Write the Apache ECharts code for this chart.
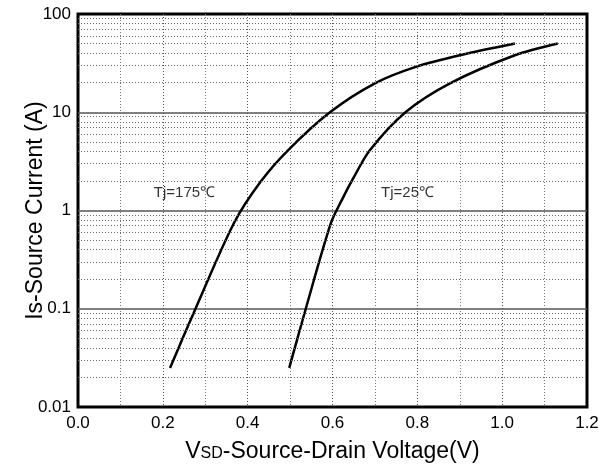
<!DOCTYPE html>
<html><head><meta charset="utf-8">
<script src="https://cdn.jsdelivr.net/npm/echarts@6/dist/echarts.min.js"></script>
<style>html,body{margin:0;padding:0;background:#fff}#c{width:609px;height:469px}</style>
</head><body><div id="c"></div>
<script>
// Tj = 175 °C curve (VSD in V, Is in A)
const tj175V = [0.217, 0.277, 0.368, 0.43, 0.495, 0.594, 0.70, 0.798, 0.90, 1.03];
const tj175I = [0.025, 0.1, 0.75, 1.95, 4.1, 10, 19.7, 29.1, 38, 50];
// Tj = 25 °C curve
const tj25V = [0.498, 0.537, 0.596, 0.624, 0.649, 0.688, 0.772, 0.877, 1.03, 1.131];
const tj25I = [0.025, 0.1, 0.74, 1.33, 2.13, 4.1, 10, 19.7, 38, 50];
// curve labels [V, I, text]
const curveLabels = [[0.251, 1.52, 'Tj=175℃'], [0.777, 1.52, 'Tj=25℃']];
// axis ticks
const yDecades = [0.01, 0.1, 1, 10, 100];
const yTickLabels = ['0.01', '0.1', '1', '10', '100'];
const minorMultipliers = [2, 3, 4, 5, 6, 7, 8, 9];

const FONT = 'Liberation Sans, Arial, sans-serif';
const minorLines = [];
yDecades.slice(0, -1).forEach(d => minorMultipliers.forEach(m => minorLines.push({ yAxis: d * m })));

const chart = echarts.init(document.getElementById('c'), null, { renderer: 'canvas' });
chart.setOption({
  animation: false,
  backgroundColor: '#fff',
  grid: { left: 78, right: 22, top: 14, bottom: 62, show: true, borderColor: '#000', borderWidth: 3, backgroundColor: 'transparent' },
  xAxis: {
    type: 'value', min: 0, max: 1.2, interval: 0.2,
    name: '{v|V}{s|SD}{n|-Source-Drain Voltage(V)}',
    nameLocation: 'middle', nameGap: 33, nameMoveOverlap: false,
    nameTextStyle: {
      rich: {
        v: { fontFamily: FONT, fontSize: 23, color: '#000' },
        s: { fontFamily: FONT, fontSize: 16, color: '#000', verticalAlign: 'bottom', padding: [0, 0, 1, 0] },
        n: { fontFamily: FONT, fontSize: 23, color: '#000' }
      }
    },
    axisLine: { show: false }, axisTick: { show: false },
    axisLabel: { fontFamily: FONT, fontSize: 17, color: '#000', margin: 8, formatter: v => v.toFixed(1) },
    splitLine: { show: true, showMinLine: false, showMaxLine: false, lineStyle: { color: '#555', width: 1, type: [1, 2] } },
    minorTick: { show: false, splitNumber: 2 },
    minorSplitLine: { show: true, lineStyle: { color: '#777', width: 1, type: [1, 2] } }
  },
  yAxis: {
    type: 'log', logBase: 10, min: 0.01, max: 100,
    name: 'Is-Source Current (A)', nameLocation: 'middle', nameGap: 31, nameMoveOverlap: false,
    nameTextStyle: { fontFamily: FONT, fontSize: 23, color: '#000' },
    axisLine: { show: false }, axisTick: { show: false },
    axisLabel: { fontFamily: FONT, fontSize: 17, color: '#000', margin: 7,
      formatter: v => yTickLabels[Math.round(Math.log10(v)) + 2] },
    splitLine: { show: true, showMinLine: false, showMaxLine: false, lineStyle: { color: '#555', width: 1.5 } }
  },
  series: [
    {
      type: 'line', silent: true, data: [], showSymbol: false,
      markLine: { silent: true, symbol: 'none', label: { show: false },
        lineStyle: { color: '#666', width: 1, type: [1, 2] }, data: minorLines, animation: false }
    },
    {
      name: 'Tj=175', type: 'line', data: tj175V.map((v, i) => [v, tj175I[i]]),
      showSymbol: false, smooth: 0.3, lineStyle: { color: '#000', width: 2.5 }
    },
    {
      name: 'Tj=25', type: 'line', data: tj25V.map((v, i) => [v, tj25I[i]]),
      showSymbol: false, smooth: 0.3, lineStyle: { color: '#000', width: 2.5 }
    },
    {
      type: 'scatter', symbolSize: 0, silent: true, data: curveLabels,
      label: { show: true, position: 'inside', formatter: p => p.data[2], fontFamily: FONT, fontSize: 15, color: '#000' }
    }
  ]
});
</script></body></html>
